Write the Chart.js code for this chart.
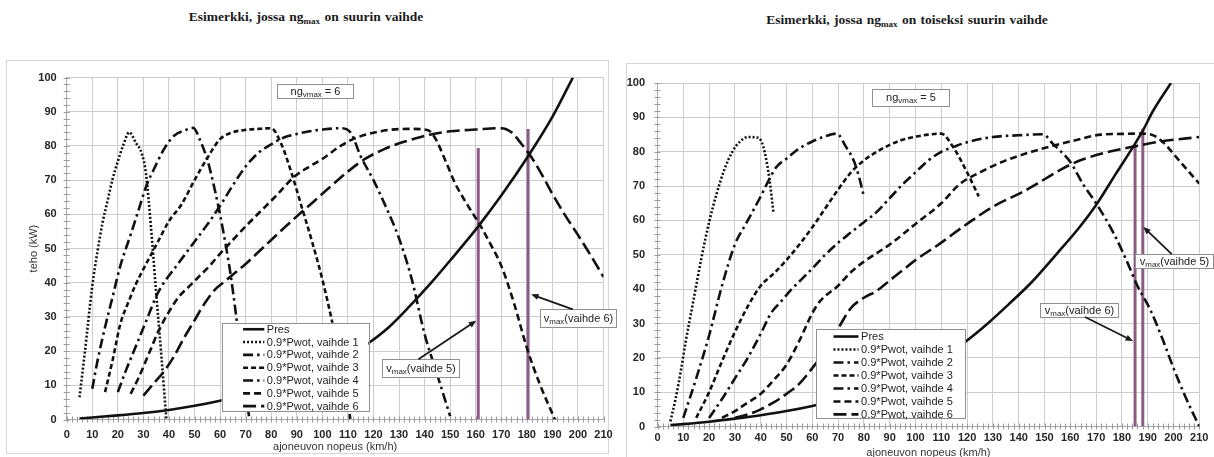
<!DOCTYPE html>
<html>
<head>
<meta charset="utf-8">
<script src="https://cdn.jsdelivr.net/npm/chart.js@4.4.1/dist/chart.umd.min.js"></script>
<style>
  body { margin: 0; width: 1214px; height: 457px; background: #fff; position: relative; overflow: hidden; }
  .title { position: absolute; font: bold 13.5px "Liberation Serif", "Times New Roman", serif; color: #1a1a1a;
           white-space: nowrap; transform: translateX(-50%); word-spacing: 1px; }
  .title sub { font-size: 9px; vertical-align: -3px; }
  .frame { position: absolute; border: 1px solid #d6d6d6; }
  canvas { position: absolute; }
</style>
</head>
<body>
<div class="title" style="left:306px;top:9px">Esimerkki, jossa ng<sub>max</sub> on suurin vaihde</div>
<div class="title" style="left:907px;top:12px">Esimerkki, jossa ng<sub>max</sub> on toiseksi suurin vaihde</div>
<div class="frame" style="left:6px;top:60px;width:601px;height:392px"></div>
<div class="frame" style="left:626px;top:63px;width:600px;height:420px"></div>
<canvas id="chartLeft" width="615" height="395" style="left:7px;top:61px"></canvas>
<canvas id="chartRight" width="587" height="400" style="left:627px;top:64px"></canvas>
<script>
// axis ticks
const xTickValues = [0, 10, 20, 30, 40, 50, 60, 70, 80, 90, 100, 110, 120, 130, 140, 150, 160, 170, 180, 190, 200, 210];
const yTickValues = [0, 10, 20, 30, 40, 50, 60, 70, 80, 90, 100];
const seriesNames = ["Pres", "0.9*Pwot, vaihde 1", "0.9*Pwot, vaihde 2", "0.9*Pwot, vaihde 3",
  "0.9*Pwot, vaihde 4", "0.9*Pwot, vaihde 5", "0.9*Pwot, vaihde 6"];

// left chart: ngvmax = 6  [speed km/h, power kW]
const presLeft = [[5, 0.3], [10, 0.6], [20, 1.2], [30, 1.9], [40, 2.8], [50, 4], [60, 5.5], [70, 7.3], [80, 9.5],
  [90, 12], [100, 15], [110, 18.5], [118, 22.3], [126, 27], [134, 33], [142, 39.5], [150, 46.5], [161, 56.5],
  [170, 65.5], [180.5, 77], [190, 88.5], [198, 100]];
const gear1Left = [[5, 6.5], [7, 19], [10, 39], [12, 49], [14, 57.5], [16, 64], [18, 70.5], [20, 75.5], [22, 80],
  [24.5, 84], [27, 81], [29.5, 77.5], [31, 72], [33, 56], [35, 37], [37, 19], [39, 0]];
const gear2Left = [[10, 9], [12, 17], [15, 27], [18, 36], [21, 45], [25, 54], [28, 61], [31.5, 69], [34, 73],
  [38, 79], [42, 83], [46, 84.5], [49.5, 85.3], [52, 82], [55, 76], [58, 67], [61, 56], [64, 43], [66, 32],
  [68, 20], [70, 8], [71.5, 0]];
const gear3Left = [[15, 8], [18, 17.5], [21, 28], [24.5, 35], [27, 39.5], [30, 44], [35, 51], [40, 58], [45, 63],
  [50, 70], [55, 76.5], [60, 82], [65, 84], [70, 84.7], [75, 85], [80, 85.2], [84, 80.5], [88, 72], [92, 62],
  [96, 52], [100, 41], [104, 28], [108, 13], [111, 0]];
const gear4Left = [[20, 8], [23, 14], [26, 19.5], [29, 25], [32, 30.5], [35, 36], [38, 40], [42, 44], [46, 48],
  [50, 52], [55, 57], [60, 62.5], [65, 68.5], [70, 74], [75, 78], [80, 80.5], [85, 82.5], [90, 83.5], [95, 84.3],
  [100, 84.8], [107, 85.2], [111, 84], [115, 77], [120, 70], [125, 62], [130, 53], [135, 41], [140, 25],
  [145, 13], [150, 1]];
const gear5Left = [[25, 7.5], [28, 12], [32, 19], [36, 26], [40, 31.5], [44, 36], [48, 39], [52, 42], [56, 45],
  [60, 48.5], [65, 52.5], [70, 56.5], [76, 61], [82, 65.5], [89, 71], [95, 74], [101, 76.7], [106, 79.5],
  [112, 82], [118, 83.5], [126, 84.7], [134, 85], [141, 84.7], [144, 82.5], [148, 76], [152, 69], [157, 62.5],
  [162, 56.5], [166, 51], [170, 45], [175, 34], [180, 21], [185, 10.5], [191, 0]];
const gear6Left = [[30, 7], [34, 10.5], [38, 14], [42, 18.5], [46, 24], [50, 29], [54, 34], [58, 38], [62, 40.5],
  [66, 43], [70, 45.5], [75, 49], [80, 52.5], [85, 56], [91.8, 60.6], [97, 64], [103, 68], [110, 72.5],
  [116.7, 76.2], [124, 79], [131, 81], [137, 82.3], [142, 83.3], [150, 84.3], [160, 84.8], [170, 85.2],
  [174, 84], [178, 80.5], [182, 76.5], [186, 71.5], [190, 66], [195, 59.7], [200, 54], [205, 48], [210, 41.7]];
const vmaxLeft = [161, 180.5];
const vmaxTopLeft = [79.4, 85];

// right chart: ngvmax = 5
const presRight = [[5, 0.4], [10, 0.7], [20, 1.4], [30, 2.3], [40, 3.3], [50, 4.5], [60, 6], [70, 7.8], [80, 10],
  [90, 12.8], [100, 16], [110, 20], [119, 24.5], [128, 30], [136, 35.5], [145, 42], [155, 50.5], [163, 57.5],
  [170, 64.5], [178, 74], [184.4, 81.5], [188, 86], [192, 91.8], [199, 100]];
const gear1Right = [[5, 1.5], [7, 8], [9, 16], [11, 25], [14, 37], [17, 49], [20, 59.5], [23, 68], [26, 75],
  [29, 80], [32, 83], [35, 84.3], [39, 84.1], [41, 81.5], [43, 74], [44.3, 66.5], [45, 62]];
const gear2Right = [[10, 2.5], [15, 14], [20, 26.5], [25, 41], [30, 53], [35, 60], [40, 67], [43, 71.5], [46, 75.5],
  [50, 78], [55, 81], [60, 83], [65, 84.5], [69.5, 85.3], [73, 81.5], [76, 77.5], [78, 73], [80, 67]];
const gear3Right = [[15, 2.5], [20, 10], [25, 19], [30, 27.5], [35, 35], [40, 41], [45, 44.5], [50, 48.5], [55, 53],
  [60, 58], [65, 63.5], [70, 69], [75, 74], [80, 77.5], [85, 80], [90, 82], [95, 83.5], [100, 84.4], [105, 85],
  [110, 85.3], [114.5, 81.5], [120, 74], [124.5, 67]];
const gear4Right = [[20, 2.5], [25, 8], [30, 14], [35, 20], [40, 27], [44, 33], [48, 36.5], [52, 40], [56, 43],
  [60, 46], [65, 50], [70, 53.5], [75, 56.5], [80, 59.5], [85, 62.5], [90, 66.5], [95, 70.5], [100, 74],
  [105, 77.5], [110, 80], [115, 81.5], [120, 82.8], [130, 84.3], [140, 84.8], [149.5, 85.1], [153, 82.5],
  [160, 77], [165, 70.5], [170, 65], [177, 56], [182, 48], [186, 41], [191, 34], [196, 25], [200, 17],
  [205, 8], [210, 0]];
const gear5Right = [[25, 2.5], [30, 4.5], [35, 7], [40, 9.5], [45, 13.5], [50, 18], [55, 25], [60, 33], [63, 36.5],
  [70, 41], [75, 45], [80, 48], [90, 53], [100, 59], [110, 65], [117, 70.5], [125, 74], [135, 77.5], [145, 80],
  [152, 81.5], [160, 83], [172, 85], [180, 85.2], [188, 85.3], [193, 84.5], [197, 82], [201, 78.5], [205, 75],
  [210, 70.7]];
const gear6Right = [[30, 2.5], [35, 3.5], [40, 5], [45, 7], [50, 9.5], [55, 12.5], [60, 17], [65, 22], [70, 28.5],
  [75, 34.5], [80, 37.5], [85, 39.5], [90, 42.5], [95, 45.5], [101, 49], [108, 52.5], [120, 59], [130, 64],
  [142, 68.5], [150, 72], [158, 75.5], [165, 77.8], [175, 80], [184.4, 81.5], [195, 83], [210, 84.3]];
const vmaxRight = [185.1, 188.1];
const vmaxTopRight = [82, 86.7];

const lineStyles = [
  { dash: [], width: 2.6 },
  { dash: [2, 2], width: 2.6 },
  { dash: [10, 4, 2.5, 4], width: 2.6 },
  { dash: [5, 3], width: 2.6 },
  { dash: [10, 4, 2.5, 4], width: 2.6 },
  { dash: [7, 4], width: 2.6 },
  { dash: [13, 5], width: 2.6 },
];
const sansFont = '"Liberation Sans", Arial, sans-serif';

// small tick marks every 2 units on both axes
const minorTicks = {
  id: "minorTicks",
  beforeDatasetsDraw(chart) {
    const { ctx, scales: { x, y } } = chart;
    ctx.save();
    ctx.strokeStyle = "#9a9a9a";
    ctx.lineWidth = 1;
    ctx.beginPath();
    for (let v = 0; v <= 210; v += 2) {
      const px = Math.round(x.getPixelForValue(v)) + 0.5;
      ctx.moveTo(px, y.bottom - 3);
      ctx.lineTo(px, y.bottom + 3);
    }
    for (let v = 0; v <= 100; v += 2) {
      const py = Math.round(y.getPixelForValue(v)) + 0.5;
      ctx.moveTo(x.left - 3, py);
      ctx.lineTo(x.left + 3, py);
    }
    ctx.stroke();
    ctx.restore();
  },
};

function richText(ctx, parts, cx, cy, size) {
  let w = 0;
  parts.forEach((p) => {
    ctx.font = (p.sub ? size * 0.72 : size) + "px " + sansFont;
    w += ctx.measureText(p.t).width;
  });
  let x = cx - w / 2;
  ctx.textAlign = "left";
  ctx.textBaseline = "middle";
  parts.forEach((p) => {
    ctx.font = (p.sub ? size * 0.72 : size) + "px " + sansFont;
    ctx.fillText(p.t, x, cy + (p.sub ? size * 0.3 : 0));
    x += ctx.measureText(p.t).width;
  });
}

function drawArrow(ctx, x0, y0, x1, y1) {
  const a = Math.atan2(y1 - y0, x1 - x0);
  ctx.beginPath();
  ctx.moveTo(x0, y0);
  ctx.lineTo(x1 - 5 * Math.cos(a), y1 - 5 * Math.sin(a));
  ctx.stroke();
  ctx.beginPath();
  ctx.moveTo(x1, y1);
  ctx.lineTo(x1 - 8 * Math.cos(a - 0.4), y1 - 8 * Math.sin(a - 0.4));
  ctx.lineTo(x1 - 8 * Math.cos(a + 0.4), y1 - 8 * Math.sin(a + 0.4));
  ctx.closePath();
  ctx.fill();
}

// legend box, text boxes and arrows placed in data units
const notes = {
  id: "notes",
  afterDatasetsDraw(chart, args, opts) {
    const { ctx, scales: { x, y } } = chart;
    const px = (v) => x.getPixelForValue(v);
    const py = (v) => y.getPixelForValue(v);
    ctx.save();

    const lg = opts.legend;
    ctx.fillStyle = "#fff";
    ctx.strokeStyle = "#8f8f8f";
    ctx.lineWidth = 1;
    ctx.fillRect(px(lg.x0), py(lg.y0), px(lg.x1) - px(lg.x0), py(lg.y1) - py(lg.y0));
    ctx.strokeRect(Math.round(px(lg.x0)) + 0.5, Math.round(py(lg.y0)) + 0.5,
      Math.round(px(lg.x1) - px(lg.x0)), Math.round(py(lg.y1) - py(lg.y0)));
    chart.data.datasets.slice(0, seriesNames.length).forEach((ds, i) => {
      const yy = py(lg.rowY0 - i * lg.rowStep);
      ctx.beginPath();
      ctx.setLineDash(ds.borderDash);
      ctx.lineWidth = ds.borderWidth;
      ctx.strokeStyle = ds.borderColor;
      ctx.moveTo(px(lg.sx0), yy);
      ctx.lineTo(px(lg.sx1), yy);
      ctx.stroke();
      ctx.setLineDash([]);
      ctx.fillStyle = "#1e1e1e";
      ctx.font = "11px " + sansFont;
      ctx.textAlign = "left";
      ctx.textBaseline = "middle";
      ctx.fillText(ds.label, px(lg.tx), yy + 0.5);
    });

    ctx.lineWidth = 1;
    opts.boxes.forEach((b) => {
      const l = Math.round(px(b.x0)) + 0.5, t = Math.round(py(b.y0)) + 0.5;
      const w = Math.round(px(b.x1) - px(b.x0)), h = Math.round(py(b.y1) - py(b.y0));
      ctx.fillStyle = "#fff";
      ctx.fillRect(l, t, w, h);
      ctx.strokeStyle = "#8f8f8f";
      ctx.strokeRect(l, t, w, h);
      ctx.fillStyle = "#222";
      richText(ctx, b.parts, l + w / 2, t + h / 2, b.size);
    });

    ctx.strokeStyle = "#1a1a1a";
    ctx.fillStyle = "#1a1a1a";
    ctx.lineWidth = 1.8;
    opts.arrows.forEach((a) => drawArrow(ctx, px(a[0]), py(a[1]), px(a[2]), py(a[3])));
    ctx.restore();
  },
};

function buildChart(id, p) {
  const datasets = p.series.map((pts, i) => ({
    label: seriesNames[i],
    data: pts.map(([x, y]) => ({ x, y })),
    borderColor: "#111",
    borderWidth: lineStyles[i].width,
    borderDash: lineStyles[i].dash,
    pointRadius: 0,
    showLine: true,
    fill: false,
    cubicInterpolationMode: "monotone",
  }));
  p.vmax.forEach((v, i) => {
    datasets.push({
      label: "vmax",
      data: [{ x: v, y: 0 }, { x: v, y: p.vmaxTop[i] }],
      borderColor: "#8c5b86",
      borderWidth: 3,
      pointRadius: 0,
      showLine: true,
    });
  });
  const tickFont = { family: sansFont, size: 11, weight: "bold" };
  return new Chart(document.getElementById(id), {
    type: "scatter",
    data: { datasets },
    options: {
      responsive: false,
      animation: false,
      events: [],
      layout: { padding: { top: p.padTop, right: p.padRight, left: 0, bottom: 0 } },
      plugins: { legend: { display: false }, tooltip: { enabled: false }, notes: p.notes },
      scales: {
        x: {
          type: "linear", min: 0, max: 210,
          afterBuildTicks: (s) => { s.ticks = xTickValues.map((value) => ({ value })); },
          afterFit: (s) => { s.height = p.xAxisH; },
          grid: { color: "#cdcdcd", drawTicks: false },
          border: { color: "#a8a8a8" },
          ticks: { padding: p.xTickPad, font: tickFont, color: "#262626", maxRotation: 0, autoSkip: false },
          title: { display: true, text: "ajoneuvon nopeus (km/h)", color: "#333",
                   font: { family: sansFont, size: 11 }, padding: { top: 0, bottom: p.xTitlePad } },
        },
        y: {
          type: "linear", min: 0, max: 100,
          afterBuildTicks: (s) => { s.ticks = yTickValues.map((value) => ({ value })); },
          afterFit: (s) => { s.width = p.yAxisW; },
          grid: { color: "#cdcdcd", drawTicks: false },
          border: { color: "#a8a8a8" },
          ticks: { padding: p.yTickPad, font: tickFont, color: "#262626" },
          title: { display: p.yTitle, text: "teho (kW)", color: "#333",
                   font: { family: sansFont, size: 11 }, padding: { top: 20, bottom: 0 } },
        },
      },
    },
    plugins: [minorTicks, notes],
  });
}

const vSub = (g) => [{ t: "v" }, { t: "max", sub: true }, { t: "(vaihde " + g + ")" }];

buildChart("chartLeft", {
  series: [presLeft, gear1Left, gear2Left, gear3Left, gear4Left, gear5Left, gear6Left],
  vmax: vmaxLeft, vmaxTop: vmaxTopLeft,
  padTop: 7.3, padRight: 18.5, xAxisH: 36.5, yAxisW: 59.7, yTickPad: 10, xTickPad: 9, xTitlePad: 2.4, yTitle: true,
  notes: {
    legend: { x0: 60.6, x1: 118, y0: 28.3, y1: 2.5, rowY0: 26.4, rowStep: 3.75, sx0: 69, sx1: 77.3, tx: 78.3 },
    boxes: [
      { x0: 82.4, x1: 112.3, y0: 98.1, y1: 93.9, size: 11, parts: [{ t: "ng" }, { t: "vmax", sub: true }, { t: " = 6" }] },
      { x0: 123.3, x1: 153.5, y0: 17.6, y1: 12.2, size: 11, parts: vSub(5) },
      { x0: 185.2, x1: 214.8, y0: 32.2, y1: 27, size: 11, parts: vSub(6) },
    ],
    arrows: [[137.6, 17.6, 160.2, 28.9], [198, 32.2, 181.7, 36.6]],
  },
});

buildChart("chartRight", {
  series: [presRight, gear1Right, gear2Right, gear3Right, gear4Right, gear5Right, gear6Right],
  vmax: vmaxRight, vmaxTop: vmaxTopRight,
  padTop: 7, padRight: 14.7, xAxisH: 37.5, yAxisW: 30.5, yTickPad: 12.5, xTickPad: 5, xTitlePad: 4.4, yTitle: false,
  notes: {
    legend: { x0: 61.6, x1: 119.4, y0: 28.4, y1: 2.5, rowY0: 26.2, rowStep: 3.78, sx0: 68.2, sx1: 77.9, tx: 78.9 },
    boxes: [
      { x0: 83, x1: 112.7, y0: 98.2, y1: 93.2, size: 11, parts: [{ t: "ng" }, { t: "vmax", sub: true }, { t: " = 5" }] },
      { x0: 185.1, x1: 215.2, y0: 50.2, y1: 46, size: 11, parts: vSub(5) },
      { x0: 148.3, x1: 178.5, y0: 36.1, y1: 31.9, size: 11, parts: vSub(6) },
    ],
    arrows: [[199.3, 50.2, 188.3, 58.1], [165.7, 31.9, 184.3, 24.9]],
  },
});
</script>
</body>
</html>
